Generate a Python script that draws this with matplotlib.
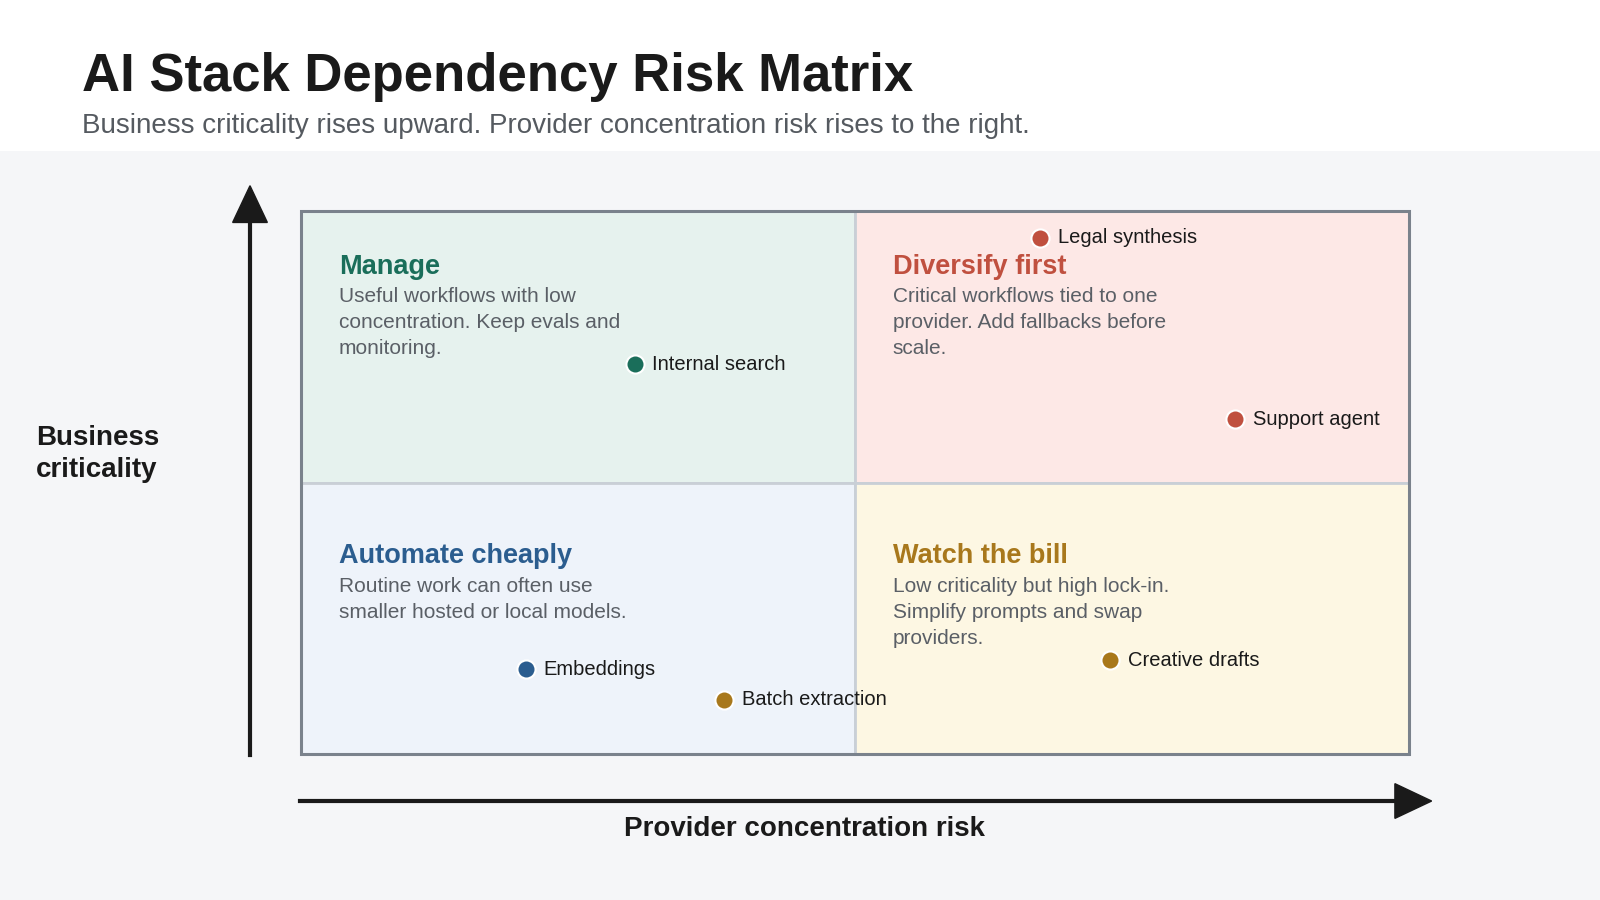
import matplotlib.pyplot as plt
from matplotlib.patches import Rectangle

plt.rcParams['font.family'] = ['Liberation Sans', 'DejaVu Sans']

# quadrant data
quad_titles = ["Manage", "Diversify first", "Automate cheaply", "Watch the bill"]
quad_texts = [
    "Useful workflows with low\nconcentration. Keep evals and\nmonitoring.",
    "Critical workflows tied to one\nprovider. Add fallbacks before\nscale.",
    "Routine work can often use\nsmaller hosted or local models.",
    "Low criticality but high lock-in.\nSimplify prompts and swap\nproviders.",
]
quad_x = [0, 50, 0, 50]
quad_y = [50, 50, 0, 0]
quad_fill = ["#e6f2ee", "#fde8e6", "#eef3fa", "#fdf7e3"]
quad_color = ["#1a6e5a", "#c0503f", "#2b5d8f", "#a8781c"]

# workloads: concentration risk (x), business criticality (y)
names = ["Legal synthesis", "Internal search", "Support agent",
         "Embeddings", "Batch extraction", "Creative drafts"]
risk = [66.7, 30.1, 84.3, 20.3, 38.2, 73.0]
crit = [95.1, 71.8, 61.7, 15.6, 10.0, 17.3]
dot_color = ["#c0503f", "#1a6e5a", "#c0503f", "#2b5d8f", "#a8781c", "#a8781c"]

W, H = 1568, 882
fig = plt.figure(figsize=(16, 9), dpi=100)
fig.patch.set_facecolor("#f5f6f8")
fig.add_artist(Rectangle((0, 1 - 148 / H), 1, 148 / H, transform=fig.transFigure,
                         facecolor="white", edgecolor="none", zorder=0))
fig.text(80 / W, 1 - 75 / H, "AI Stack Dependency Risk Matrix", fontsize=38,
         fontweight="bold", color="#1a1a1a", va="center")
fig.text(80 / W, 1 - 123 / H,
         "Business criticality rises upward. Provider concentration risk rises to the right.",
         fontsize=20, color="#555a60", va="center")

ax = fig.add_axes([295 / W, 1 - 739 / H, 1086 / W, 532 / H])
ax.set_xlim(0, 100)
ax.set_ylim(0, 100)
ax.axis("off")

for i in range(4):
    top = quad_y[i] == 50
    ty = 39.8 if top else 36.5
    by = 36.0 if top else 32.6
    ax.add_patch(Rectangle((quad_x[i], quad_y[i]), 50, 50, facecolor=quad_fill[i],
                           edgecolor="#c9cfd6", lw=2, zorder=0))
    ax.text(quad_x[i] + 3.4, quad_y[i] + ty, quad_titles[i], fontsize=19.5,
            fontweight="bold", color=quad_color[i], va="center")
    ax.text(quad_x[i] + 3.4, quad_y[i] + by, quad_texts[i], fontsize=15,
            color="#5a5f66", va="top", linespacing=1.45)
ax.add_patch(Rectangle((0, 0), 100, 100, facecolor="none", edgecolor="#7a828c",
                       lw=2.2, zorder=1, clip_on=False))

for n, x, y, c in zip(names, risk, crit, dot_color):
    ax.scatter(x, y, s=170, color=c, edgecolor="white", linewidth=1.5, zorder=3,
               clip_on=False)
    ax.text(x + 1.6, y, n, fontsize=14.5, color="#1a1a1a", va="center", zorder=4)

# axis arrows
fig.add_artist(plt.Line2D([245 / W, 245 / W], [1 - 740 / H, 1 - 210 / H],
                          color="#1a1a1a", lw=3, transform=fig.transFigure))
fig.add_artist(plt.Polygon([[228 / W, 1 - 218 / H], [262 / W, 1 - 218 / H],
                            [245 / W, 1 - 182 / H]], closed=True, color="#1a1a1a",
                           transform=fig.transFigure))
fig.add_artist(plt.Line2D([294 / W, 1372 / W], [1 - 785 / H, 1 - 785 / H],
                          color="#1a1a1a", lw=3, transform=fig.transFigure))
fig.add_artist(plt.Polygon([[1367 / W, 1 - 768 / H], [1367 / W, 1 - 802 / H],
                            [1403 / W, 1 - 785 / H]], closed=True, color="#1a1a1a",
                           transform=fig.transFigure))
fig.text(35 / W, 1 - 445 / H, "Business\ncriticality", fontsize=20, fontweight="bold",
         color="#1a1a1a", va="center", linespacing=1.3)
fig.text(788 / W, 1 - 812 / H, "Provider concentration risk", fontsize=20,
         fontweight="bold", color="#1a1a1a", ha="center", va="center")

fig.savefig("out.png", dpi=100, facecolor=fig.get_facecolor())
